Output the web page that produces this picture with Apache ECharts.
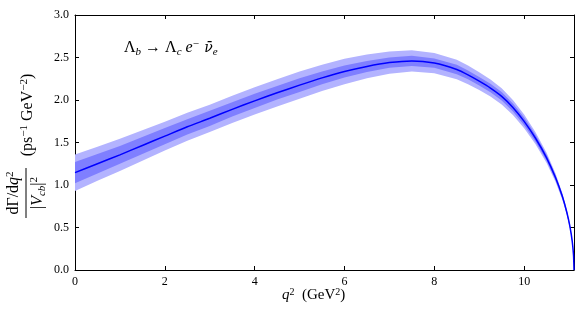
<!DOCTYPE html>
<html>
<head>
<meta charset="utf-8">
<script src="https://cdn.jsdelivr.net/npm/echarts@6/dist/echarts.min.js"></script>
<style>
	html, body { margin: 0; padding: 0; background: #fff; }
	#chart { width: 582px; height: 320px; }
</style>
</head>
<body>
<div id="chart"></div>
<script>
// q^2 points (GeV^2)
var q2 = [0, 0.5, 1, 1.5, 2, 2.5, 3, 3.5, 4, 4.5, 5, 5.5, 6, 6.5, 7, 7.5, 8, 8.5, 8.75, 9, 9.25, 9.5, 9.75, 10, 10.25, 10.5, 10.7, 10.85, 10.95, 11.02, 11.07, 11.1, 11.11];
// central value
var central = [1.145, 1.25, 1.355, 1.465, 1.575, 1.685, 1.785, 1.89, 1.99, 2.085, 2.175, 2.26, 2.335, 2.395, 2.44, 2.46, 2.434, 2.359, 2.296, 2.222, 2.141, 2.043, 1.913, 1.749, 1.553, 1.32, 1.085, 0.867, 0.68, 0.51, 0.34, 0.17, 0];
// half widths of inner (dark) and outer (light) bands
var darkHalf = [0.125, 0.115, 0.105, 0.10, 0.095, 0.09, 0.09, 0.085, 0.085, 0.08, 0.08, 0.075, 0.07, 0.065, 0.06, 0.06, 0.055, 0.055, 0.052, 0.05, 0.05, 0.05, 0.047, 0.045, 0.04, 0.035, 0.03, 0.025, 0.02, 0.015, 0.01, 0.005, 0];
var lightHalf = [0.215, 0.20, 0.19, 0.18, 0.17, 0.165, 0.16, 0.16, 0.16, 0.16, 0.16, 0.155, 0.15, 0.14, 0.13, 0.125, 0.12, 0.115, 0.11, 0.105, 0.10, 0.095, 0.088, 0.08, 0.07, 0.06, 0.05, 0.04, 0.03, 0.02, 0.015, 0.01, 0];
var xTicks = [0, 2, 4, 6, 8, 10];
var yTicks = [0, 0.5, 1, 1.5, 2, 2.5, 3];

var LIGHT = '#b3b3ff', DARK = '#7f7fff', LINE = '#0000ff';
var FONT = 'Liberation Serif';

var sLine = [];
for (var i = 0; i < q2.length; i++) {
	sLine.push([q2[i], central[i]]);
}

// band polygon between central-half and central+half, through the axes' scales
function bandSeries(half, color) {
	return {
		type: 'custom', silent: true, clip: true,
		data: [[0, 0]],
		renderItem: function(params, api) {
			var pts = [];
			for (var j = 0; j < q2.length; j++) {
				pts.push(api.coord([q2[j], central[j] + half[j]]));
			}
			for (var k = q2.length - 1; k >= 0; k--) {
				pts.push(api.coord([q2[k], central[k] - half[k]]));
			}
			return { type: 'polygon', shape: { points: pts }, style: { fill: color } };
		}
	};
}

var myChart = echarts.init(document.getElementById('chart'));

var axisCommon = {
	min: 0,
	splitLine: { show: false },
	axisLine: { show: true, onZero: false, lineStyle: { color: '#000', width: 1 } },
	axisTick: { show: true, inside: true, length: 4, lineStyle: { color: '#000' } }
};

var option = {
	animation: false,
	grid: { left: 75, right: 8, top: 15, bottom: 50 },
	xAxis: [
		Object.assign({}, axisCommon, {
			type: 'value', max: 11.11, interval: 2, position: 'bottom',
			axisLabel: {
				color: '#000', fontFamily: FONT, fontSize: 12, margin: 6, showMaxLabel: false,
				formatter: function(v) { return xTicks.indexOf(v) >= 0 ? String(v) : ''; }
			}
		}),
		Object.assign({}, axisCommon, {
			type: 'value', max: 11.11, interval: 2, position: 'top',
			axisLabel: { show: false }
		})
	],
	yAxis: [
		Object.assign({}, axisCommon, {
			type: 'value', max: 3, interval: 0.5, position: 'left',
			axisLabel: {
				color: '#000', fontFamily: FONT, fontSize: 12, margin: 6,
				formatter: function(v) { return yTicks.indexOf(v) >= 0 ? v.toFixed(1) : ''; }
			}
		}),
		Object.assign({}, axisCommon, {
			type: 'value', max: 3, interval: 0.5, position: 'right',
			axisLabel: { show: false }
		})
	],
	series: [
		bandSeries(lightHalf, LIGHT),
		bandSeries(darkHalf, DARK),
		{
			type: 'line', data: sLine, smooth: 0.2, symbol: 'none', silent: true,
			lineStyle: { color: LINE, width: 1.5 }
		}
	],
	graphic: [
		{
			// process label
			type: 'text', left: 124, top: 39,
			style: {
				text: '{m|Λ}{s|b}{m| → Λ}{s|c}{i| e}{p|−}{v| ν̄}{s|e}',
				rich: {
					m: { fontFamily: FONT, fontSize: 16, fill: '#000' },
					i: { fontFamily: FONT, fontSize: 16, fontStyle: 'italic', fill: '#000' },
					v: { fontFamily: 'DejaVu Serif', fontSize: 14, fontStyle: 'italic', fill: '#000' },
					s: { fontFamily: FONT, fontSize: 11, fontStyle: 'italic', fill: '#000', padding: [9, 0, 0, 0] },
					p: { fontFamily: FONT, fontSize: 11, fill: '#000', padding: [0, 1, 7, 0] }
				}
			}
		},
		{
			// x axis name
			type: 'text', left: 282, top: 287,
			style: {
				text: '{i|q}{p|2}{m|  (GeV}{p|2}{m|)}',
				rich: {
					m: { fontFamily: FONT, fontSize: 15, fill: '#000' },
					i: { fontFamily: FONT, fontSize: 15, fontStyle: 'italic', fill: '#000' },
					p: { fontFamily: FONT, fontSize: 10, fill: '#000', padding: [0, 0, 7, 0] }
				}
			}
		},
		{
			// y axis name, rotated
			type: 'group', x: 0, y: 142, rotation: Math.PI / 2,
			children: [
				{
					type: 'text', x: -51, y: 14,
					style: {
						text: '{m|dΓ/d}{i|q}{p|2}',
						align: 'center', verticalAlign: 'middle',
						rich: {
							m: { fontFamily: FONT, fontSize: 16, fill: '#000' },
							i: { fontFamily: FONT, fontSize: 16, fontStyle: 'italic', fill: '#000' },
							p: { fontFamily: FONT, fontSize: 11, fill: '#000', padding: [0, 0, 7, 0] }
						}
					}
				},
				{
					type: 'line', shape: { x1: -76, y1: 26, x2: -26, y2: 26 },
					style: { stroke: '#000', lineWidth: 1 }
				},
				{
					type: 'text', x: -51, y: 38,
					style: {
						text: '{m||}{i|V}{s|cb}{m||}{p|2}',
						align: 'center', verticalAlign: 'middle',
						rich: {
							m: { fontFamily: FONT, fontSize: 16, fill: '#000' },
							i: { fontFamily: FONT, fontSize: 16, fontStyle: 'italic', fill: '#000' },
							s: { fontFamily: FONT, fontSize: 11, fontStyle: 'italic', fill: '#000', padding: [9, 0, 0, 0] },
							p: { fontFamily: FONT, fontSize: 11, fill: '#000', padding: [0, 0, 7, 0] }
						}
					}
				},
				{
					type: 'text', x: 27, y: 28,
					style: {
						text: '{m|(ps}{p|−1}{m| GeV}{p|−2}{m|)}',
						align: 'center', verticalAlign: 'middle',
						rich: {
							m: { fontFamily: FONT, fontSize: 16, fill: '#000' },
							p: { fontFamily: FONT, fontSize: 11, fill: '#000', padding: [0, 0, 7, 0] }
						}
					}
				}
			]
		}
	]
};

myChart.setOption(option);
window.addEventListener('resize', function() {
	myChart.resize();
});
</script>
</body>
</html>
